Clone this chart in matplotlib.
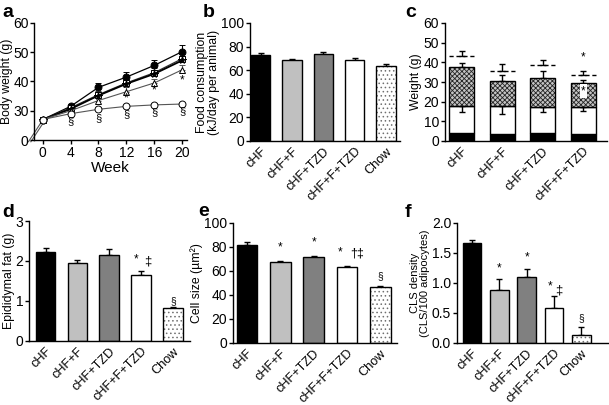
import matplotlib
matplotlib.use("Agg")
import matplotlib.pyplot as plt
import numpy as np

plt.rcParams['font.family'] = ['Liberation Sans', 'DejaVu Sans']
plt.rcParams['hatch.linewidth'] = 0.6

# ---------------- data ----------------
weeks = [0, 4, 8, 12, 16, 20]
bw_cHF = [27, 31.5, 38, 41.5, 45.5, 50.2]
bw_cHF_err = [0.8, 0.8, 1.6, 1.7, 1.8, 2.2]
bw_cHF_F = [27, 31, 35.5, 39.5, 43, 47.8]
bw_cHF_F_err = [0.7, 0.8, 1.2, 1.4, 1.5, 1.6]
bw_cHF_TZD = [27, 30.6, 35.2, 39.2, 42.6, 47.2]
bw_cHF_TZD_err = [0.7, 0.8, 1.2, 1.4, 1.5, 1.6]
bw_cHF_F_TZD = [27, 30, 33.5, 36.5, 39.5, 44]
bw_cHF_F_TZD_err = [0.7, 0.8, 1.2, 1.5, 1.5, 1.8]
bw_chow = [27, 29, 30.5, 31.5, 32, 32.3]
bw_chow_err = [0.4, 0.4, 0.5, 0.5, 0.5, 0.5]
a_star_x = [12, 16, 20]
a_star_y = [34.2, 36.8, 40.5]
a_sect_x = [4, 8, 12, 16, 20]
a_sect_y = [26.3, 27.5, 28.8, 29.5, 29.8]

groups5 = ['cHF', 'cHF+F', 'cHF+TZD', 'cHF+F+TZD', 'Chow']
groups4 = ['cHF', 'cHF+F', 'cHF+TZD', 'cHF+F+TZD']

food = [73, 68.5, 74, 68.5, 63.5]
food_err = [1.5, 1.2, 1.3, 1.6, 1.8]

c_lean = [4.2, 3.8, 4.2, 3.4]
c_white_top = [17.9, 17.9, 17.4, 17.4]
c_white_err = [3.0, 4.2, 2.5, 2.0]
c_fat_top = [37.4, 30.6, 32.1, 29.3]
c_fat_err = [2.3, 2.9, 3.6, 1.7]
c_dash = [43.3, 35.7, 38.6, 33.8]
c_dash_err = [2.5, 3.7, 2.4, 1.9]

epi = [2.22, 1.94, 2.15, 1.65, 0.83]
epi_err = [0.1, 0.08, 0.15, 0.1, 0.02]

cell = [82, 67.5, 71.5, 63, 46.5]
cell_err = [2.0, 1.0, 1.0, 0.8, 0.8]

cls = [1.67, 0.88, 1.1, 0.59, 0.14]
cls_err = [0.05, 0.18, 0.13, 0.2, 0.13]

# ---------------- style ----------------
faces = ['black', '#c0c0c0', '#808080', 'white', 'white']
hatches = [None, None, None, None, '....']
TICK = 10
CAT = 9.2
LAB = 8.8

fig = plt.figure(figsize=(6.09, 4.05), dpi=100)
W, H = 609.0, 405.0


def add_ax(l, r, t, b):
    ax = fig.add_axes([l / W, 1 - b / H, (r - l) / W, (b - t) / H])
    for s in ['top', 'right']:
        ax.spines[s].set_visible(False)
    for s in ['left', 'bottom']:
        ax.spines[s].set_linewidth(1.0)
    ax.tick_params(direction='out', length=3, width=1, labelsize=TICK, pad=1.2)
    return ax


def bar_panel(ax, vals, errs, names, ylim, yticks, xlim, width=0.62):
    x = np.arange(len(vals))
    for i, v in enumerate(vals):
        if hatches[i]:
            ax.bar(x[i], v, width, color='white', edgecolor='#707070',
                   hatch=hatches[i], linewidth=0, zorder=2)
            ax.bar(x[i], v, width, color='none', edgecolor='black',
                   linewidth=1.0, zorder=3)
        else:
            ax.bar(x[i], v, width, color=faces[i], edgecolor='black',
                   linewidth=1.0, zorder=2)
    ax.errorbar(x, vals, yerr=[np.zeros(len(vals)), errs], fmt='none',
                ecolor='black', elinewidth=1, capsize=2.5, capthick=1, zorder=1)
    ax.set_xticks(x)
    ax.set_xticklabels(names, rotation=45, ha='right', rotation_mode='anchor',
                       fontsize=CAT)
    ax.tick_params(axis='x', length=0, pad=3)
    ax.set_ylim(*ylim)
    ax.set_yticks(yticks)
    ax.set_xlim(*xlim)
    return x


# ---------------- panel a ----------------
axa = add_ax(34, 187, 23, 140)
series = [
    (bw_cHF, bw_cHF_err, 'o', 'black', 'black', 0.9),
    (bw_cHF_F, bw_cHF_F_err, 's', 'white', '#333333', 0.9),
    (bw_cHF_TZD, bw_cHF_TZD_err, '*', 'black', 'black', 1.3),
    (bw_cHF_F_TZD, bw_cHF_F_TZD_err, '^', 'white', '#555555', 0.8),
    (bw_chow, bw_chow_err, 'o', 'white', '#555555', 0.8),
]
for vals, err, mk, mfc, lc, lw in series:
    axa.errorbar(weeks, vals, yerr=[np.zeros(len(vals)), err], color=lc,
                 lw=lw, marker=mk, ms=5 if mk != '*' else 5.5, mfc=mfc,
                 mec='black', mew=0.7, ecolor=lc, elinewidth=0.8, capsize=2,
                 capthick=0.8)
axa.set_xlim(-1.25, 20.7)
axa.set_ylim(20, 60)
axa.set_yticks([20, 30, 40, 50, 60])
axa.set_yticklabels(['0', '30', '40', '50', '60'])
axa.tick_params(axis='y', pad=0.8)
axa.set_xticks(weeks)
axa.set_xlabel('Week', fontsize=11, labelpad=1)
axa.set_ylabel('Body weight (g)', fontsize=LAB, labelpad=0)
for dx in [0.0, 0.35]:
    axa.plot([-2.05 + dx, -0.15 + dx], [19.4, 26.3], color='#555555', lw=0.8,
             clip_on=False, zorder=0)
for xx, yy in zip(a_star_x, a_star_y):
    axa.text(xx, yy, '*', ha='center', va='center', fontsize=8.5)
for xx, yy in zip(a_sect_x, a_sect_y):
    axa.text(xx, yy, '§', ha='center', va='center', fontsize=8)

# ---------------- panel b ----------------
axb = add_ax(250, 400, 23, 141)
bar_panel(axb, food, food_err, groups5, (0, 100), [0, 20, 40, 60, 80, 100],
          (-0.34, 4.45))
axb.set_ylabel('Food consumption\n(kJ/day per animal)', fontsize=8.8,
               labelpad=1, linespacing=1.0)

# ---------------- panel c ----------------
axc = add_ax(445, 607, 23, 141)
xc = np.arange(len(groups4))
wc = 0.62
white_h = np.array(c_white_top) - np.array(c_lean)
fat_h = np.array(c_fat_top) - np.array(c_white_top)
axc.bar(xc, c_lean, wc, color='black', edgecolor='black', lw=1.0, zorder=2)
axc.bar(xc, white_h, wc, bottom=c_lean, color='white', edgecolor='black',
        lw=1.0, zorder=2)
axc.bar(xc, fat_h, wc, bottom=c_white_top, color='#c4c4c4',
        edgecolor='#252525', hatch='xxxxxxx', lw=0, zorder=2)
axc.bar(xc, fat_h, wc, bottom=c_white_top, color='none', edgecolor='black',
        lw=1.0, zorder=3)
axc.errorbar(xc, c_fat_top, yerr=[np.zeros(4), c_fat_err], fmt='none',
             ecolor='black', elinewidth=1, capsize=2.5, capthick=1, zorder=1)
axc.errorbar(xc, c_white_top, yerr=[c_white_err, np.zeros(4)], fmt='none',
             ecolor='black', elinewidth=1, capsize=2.5, capthick=1, zorder=4)
axc.hlines(c_dash, xc - wc / 2, xc + wc / 2, colors='black', lw=1.0,
           linestyles=(0, (3, 2)))
axc.errorbar(xc, c_dash, yerr=[np.zeros(4), c_dash_err], fmt='none',
             ecolor='black', elinewidth=1, capsize=2.5, capthick=1)
axc.text(3, 42.3, '*', ha='center', va='center', fontsize=8.5)
axc.text(3, 25.3, '*', ha='center', va='center', fontsize=8.5,
         bbox=dict(boxstyle='square,pad=0.1', fc='white', ec='none'))
axc.set_xticks(xc)
axc.set_xticklabels(groups4, rotation=45, ha='right', rotation_mode='anchor',
                    fontsize=CAT)
axc.tick_params(axis='x', length=0, pad=3)
axc.set_ylim(0, 60)
axc.set_yticks([0, 10, 20, 30, 40, 50, 60])
axc.set_xlim(-0.41, 3.59)
axc.set_ylabel('Weight (g)', fontsize=LAB, labelpad=1)

# ---------------- panel d ----------------
axd = add_ax(29, 190, 221, 341)
bar_panel(axd, epi, epi_err, groups5, (0, 3), [0, 1, 2, 3], (-0.52, 4.53))
axd.set_ylabel('Epididymal fat (g)', fontsize=LAB, labelpad=0)
axd.text(2.85, 2.05, '*', ha='center', va='center', fontsize=8.5)
axd.text(3.2, 2.0, '‡', ha='center', va='center', fontsize=9.5)
axd.text(4, 1.0, '§', ha='center', va='center', fontsize=7.5)

# ---------------- panel e ----------------
axe = add_ax(233, 397, 223, 343)
bar_panel(axe, cell, cell_err, groups5, (0, 100), [0, 20, 40, 60, 80, 100],
          (-0.42, 4.5))
axe.set_ylabel('Cell size (µm²)', fontsize=LAB, labelpad=1)
axe.text(1, 80, '*', ha='center', va='center', fontsize=8.5)
axe.text(2, 84, '*', ha='center', va='center', fontsize=8.5)
axe.text(2.8, 75.5, '*', ha='center', va='center', fontsize=8.5)
axe.text(3.3, 75, '†‡', ha='center', va='center', fontsize=9)
axe.text(4, 56, '§', ha='center', va='center', fontsize=7.5)

# ---------------- panel f ----------------
axf = add_ax(457, 608, 223, 343)
bar_panel(axf, cls, cls_err, groups5, (0, 2.0), [0, 0.5, 1.0, 1.5, 2.0],
          (-0.55, 4.98), width=0.69)
axf.set_yticklabels(['0.0', '0.5', '1.0', '1.5', '2.0'])
axf.set_ylabel('CLS density\n(CLS/100 adipocytes)', fontsize=8, labelpad=1,
               linespacing=1.0)
axf.text(1, 1.25, '*', ha='center', va='center', fontsize=8.5)
axf.text(2, 1.42, '*', ha='center', va='center', fontsize=8.5)
axf.text(2.85, 0.95, '*', ha='center', va='center', fontsize=8.5)
axf.text(3.18, 0.88, '‡', ha='center', va='center', fontsize=9.5)
axf.text(4, 0.42, '§', ha='center', va='center', fontsize=7.5)

# ---------------- panel letters ----------------
for lab, px, py in [('a', 2, 17), ('b', 203, 17), ('c', 405, 17),
                    ('d', 2, 217), ('e', 198, 216), ('f', 405, 217)]:
    fig.text(px / W, 1 - py / H, lab, fontsize=14, fontweight='bold',
             ha='left', va='baseline')

fig.savefig('out.png', dpi=100)
